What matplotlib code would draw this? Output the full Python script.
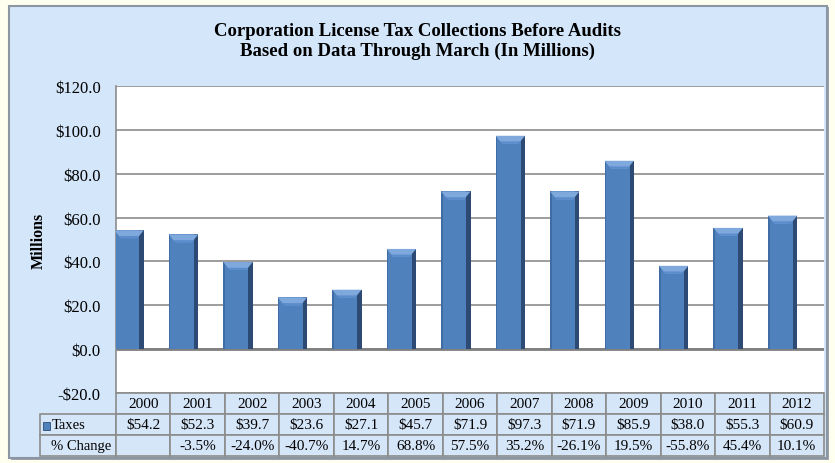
import matplotlib.pyplot as plt
from matplotlib.patches import Rectangle, Polygon
import numpy as np

years = ["2000", "2001", "2002", "2003", "2004", "2005", "2006",
         "2007", "2008", "2009", "2010", "2011", "2012"]
taxes = [54.2, 52.3, 39.7, 23.6, 27.1, 45.7, 71.9, 97.3, 71.9, 85.9, 38.0, 55.3, 60.9]
pct_change = [None, -3.5, -24.0, -40.7, 14.7, 68.8, 57.5, 35.2, -26.1, 19.5, -55.8, 45.4, 10.1]
row_labels = ["Taxes", "% Change"]
y_ticks = [-20, 0, 20, 40, 60, 80, 100, 120]

plt.rcParams["font.family"] = ["Liberation Serif", "DejaVu Serif"]

W, H = 835, 464
fig = plt.figure(figsize=(W / 100, H / 100), dpi=100)
fig.patch.set_facecolor("#FFFFF0")

# chart area box
fig.add_artist(Rectangle((11 / W, 1 - 461 / H), 818 / W, 453 / H, transform=fig.transFigure,
                         facecolor="#9AA3AE", edgecolor="none", zorder=0))
fig.add_artist(Rectangle((9 / W, 1 - 459 / H), 818 / W, 452 / H, transform=fig.transFigure,
                         facecolor="#D4E6FA", edgecolor="#8C96A3", lw=1.5, zorder=0))

left, right, top, bottom = 116, 824, 87, 394
ax = fig.add_axes([left / W, 1 - bottom / H, (right - left) / W, (bottom - top) / H])
ax.set_facecolor("white")

x = np.arange(len(years))
bar_w = 0.54
bar_l = x - 0.53
ax.bar(bar_l, taxes, width=bar_w, align="edge", color="#4F81BD", edgecolor="none", zorder=3)
# darker right side and lighter left edge
ax.bar(bar_l + bar_w - 0.08, taxes, width=0.08, align="edge", color="#2C4A73",
       edgecolor="none", zorder=4)
ax.bar(bar_l, taxes, width=0.03, align="edge", color="#3F6CA5", edgecolor="none", zorder=4)
# top bevel
for l, v in zip(bar_l, taxes):
    r = l + bar_w
    ax.add_patch(Polygon([(l, v), (r, v), (r - 0.12, v - 3.6), (l + 0.12, v - 3.6)],
                         closed=True, facecolor="#7FA8DD", edgecolor="none", zorder=5))
    ax.add_patch(Polygon([(l + 0.12, v - 3.6), (r - 0.12, v - 3.6), (r - 0.08, v - 2.6),
                          (l + 0.08, v - 2.6)], closed=True, facecolor="#5B8CCB",
                         edgecolor="none", zorder=5))

ax.set_xlim(-0.5, len(years) - 0.5)
ax.set_ylim(-20, 120)
ax.set_yticks(y_ticks)
ax.set_yticklabels([f"${v:.1f}" if v >= 0 else f"-${-v:.1f}" for v in y_ticks], fontsize=12)
ax.tick_params(axis="y", length=0, pad=11)
ax.set_xticks([])
ax.yaxis.grid(True, color="#8C8C8C", lw=1.2)
ax.set_axisbelow(True)
ax.axhline(0, color="#7F7F7F", lw=2, zorder=2)
for s in ["top", "right", "bottom"]:
    ax.spines[s].set_visible(False)
ax.spines["left"].set_color("#8C8C8C")
ax.spines["left"].set_linewidth(1.2)

ax.set_ylabel("Millions", fontsize=11.5, fontweight="bold", labelpad=6)

fig.text(418 / W, 1 - 32 / H, "Corporation License Tax Collections Before Audits",
         ha="center", va="center", fontsize=13.5, fontweight="bold")
fig.text(418 / W, 1 - 51 / H, "Based on Data Through March (In Millions)",
         ha="center", va="center", fontsize=13.5, fontweight="bold")

# data table, first column holds the row labels
tax_labels = [f"${v:.1f}" for v in taxes]
pct_labels = ["" if p is None else f"{p:.1f}%" for p in pct_change]
aw = right - left
ah = bottom - top
lab_w = 76 / aw
cell_text = [[row_labels[0]] + tax_labels, [row_labels[1]] + pct_labels]
tbl = ax.table(cellText=cell_text, colLabels=[""] + years,
               colWidths=[lab_w] + [1 / len(years)] * len(years),
               cellLoc="center", colLoc="center",
               bbox=[-lab_w, -63 / ah, 1 + lab_w, 63 / ah])
tbl.auto_set_font_size(False)
for (r, c), cell in tbl.get_celld().items():
    cell.set_facecolor("#D6E6F9")
    cell.set_edgecolor("#8C8C8C")
    cell.set_linewidth(1.2)
    cell.get_text().set_fontsize(11)
    if c == 0:
        cell.get_text().set_fontsize(10.5)
        cell.get_text().set_horizontalalignment("left")
        cell._loc = "left"
        cell.PAD = 0.15
        if r == 0:
            cell.visible_edges = ""
            cell.set_facecolor("none")

ax.add_patch(Rectangle(((43 - left) / aw, (bottom - 431) / ah), 7 / aw, 8 / ah,
                       transform=ax.transAxes, facecolor="#4F81BD", edgecolor="#2C4A73",
                       lw=0.6, clip_on=False, zorder=10))

plt.savefig("out.png", dpi=100)
